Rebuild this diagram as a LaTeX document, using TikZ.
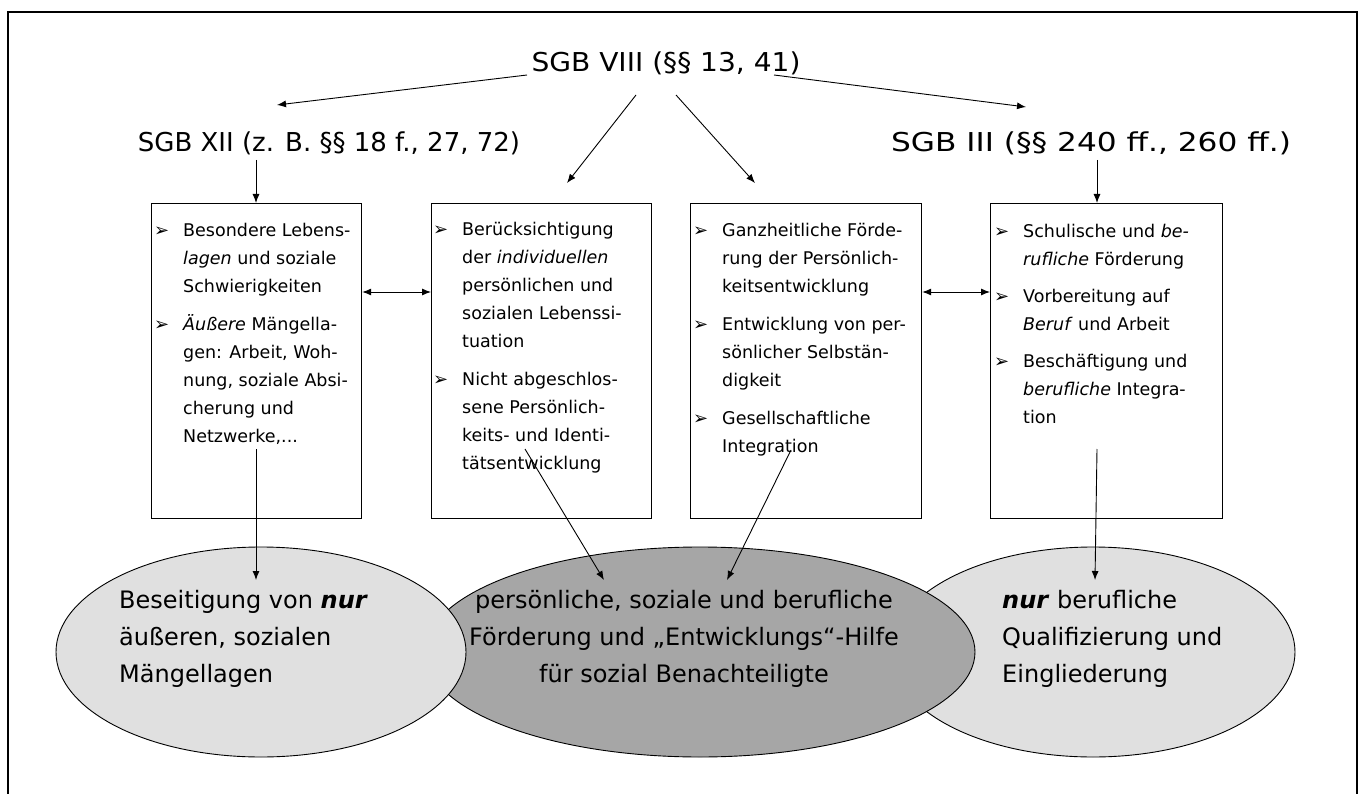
\documentclass[tikz,border=0pt]{standalone}
\usepackage{fontspec}
\setmainfont{DejaVu Sans}
\usetikzlibrary{shapes.geometric,arrows.meta}
\definecolor{lightell}{RGB}{224,224,224}
\definecolor{darkell}{RGB}{166,166,166}
\newcommand{\bul}{\makebox[29pt][l]{\fontsize{18}{18}\selectfont ➢}}
\newcommand{\ind}{\hspace*{29pt}}
\tikzset{
  arr/.style={-{Latex[length=9pt,width=7pt]}, line width=0.9pt},
  darr/.style={{Latex[length=9pt,width=7pt]}-{Latex[length=9pt,width=7pt]}, line width=0.9pt},
  boxnode/.style={draw, line width=1.2pt, anchor=north west, inner sep=0pt},
  boxtext/.style={anchor=base west, inner sep=0pt, align=left, font=\fontsize{17.5}{28}\selectfont},
  toplabel/.style={anchor=base, inner sep=0pt, font=\fontsize{26}{30}\selectfont},
  ell/.style={ellipse, draw, line width=0.9pt, inner sep=0pt, minimum height=210pt},
  elltext/.style={inner sep=0pt, font=\fontsize{24}{37}\selectfont},
}
\begin{document}
\begin{tikzpicture}[x=1pt,y=-1pt]
\useasboundingbox (0,0) rectangle (1365,794);
\draw[line width=1.2pt] (8,800) -- (8,12) -- (1357,12) -- (1357,800);

% top labels
\node[toplabel] (viii) at (666,72) {\scalebox{1.08}[1]{SGB VIII (§§ 13, 41)}};
\node[toplabel] (xii) at (329,152) {SGB XII (z. B. §§ 18 f., 27, 72)};
\node[toplabel] (iii) at (1091,152) {\scalebox{1.2}[1]{SGB III (§§ 240 ff., 260 ff.)}};

% boxes
\node[boxnode, minimum width=210pt, minimum height=315pt] (b1) at (151,203) {};
\node[boxnode, minimum width=220pt, minimum height=315pt] (b2) at (431,203) {};
\node[boxnode, minimum width=231pt, minimum height=315pt] (b3) at (690,203) {};
\node[boxnode, minimum width=232pt, minimum height=315pt] (b4) at (990,203) {};

% (anchor base = baseline of the last line)
\node[boxtext] (t1) at (154,442) {\bul Besondere Lebens-\\
\ind\textit{lagen} und soziale\\
\ind Schwierigkeiten\\[10pt]
\bul\textit{Äußere} Mängella-\\
\ind gen: Arbeit, Woh-\\
\ind nung, soziale Absi-\\
\ind cherung und\\
\ind Netzwerke,...};

\node[boxtext] (t2) at (433,469) {\bul Berücksichtigung\\
\ind der \textit{individuellen}\\
\ind persönlichen und\\
\ind sozialen Lebenssi-\\
\ind tuation\\[10pt]
\bul Nicht abgeschlos-\\
\ind sene Persönlich-\\
\ind keits- und Identi-\\
\ind tätsentwicklung};

\node[boxtext] (t3) at (693,452) {\bul Ganzheitliche Förde-\\
\ind rung der Persönlich-\\
\ind keitsentwicklung\\[10pt]
\bul Entwicklung von per-\\
\ind sönlicher Selbstän-\\
\ind digkeit\\[10pt]
\bul Gesellschaftliche\\
\ind Integration};

\node[boxtext] (t4) at (994,423) {\bul Schulische und \textit{be-}\\
\ind\textit{rufliche} Förderung\\[9pt]
\bul Vorbereitung auf\\
\ind\textit{Beruf} und Arbeit\\[9pt]
\bul Beschäftigung und\\
\ind\textit{berufliche} Integra-\\
\ind tion};

% top connectors
\coordinate (s1) at (527,75);  \coordinate (e1) at (277,105);
\coordinate (s2) at (636,95);  \coordinate (e2) at (567,183);
\coordinate (s3) at (676,95);  \coordinate (e3) at (755,183);
\coordinate (s4) at (774,75);  \coordinate (e4) at (1026,107);
\coordinate (s5) at (256,160); \coordinate (s6) at (1097,160);
\draw[arr] (s1) -- (e1);
\draw[arr] (s2) -- (e2);
\draw[arr] (s3) -- (e3);
\draw[arr] (s4) -- (e4);
\draw[arr] (s5) -- (b1.north -| s5);
\draw[arr] (s6) -- (b4.north -| s6);

% double arrows between boxes
\draw[darr] (b1.east |- 0,292) -- (b2.west |- 0,292);
\draw[darr] (b3.east |- 0,292) -- (b4.west |- 0,292);

% ellipses
\node[ell, fill=lightell, minimum width=404pt] (er) at (1093,652) {};
\node[ell, fill=darkell, minimum width=550pt] (em) at (700,652) {};
\node[ell, fill=lightell, minimum width=410pt] (el) at (261,652) {};

\node[elltext, anchor=base west, align=left] (tl) at (119,682) {Beseitigung von \textbf{\textit{nur}}\\
äußeren, sozialen\\
Mängellagen};
\node[elltext, anchor=base, align=center] (tm) at (684,682) {persönliche, soziale und berufliche\\
Förderung und „Entwicklungs“-Hilfe\\
für sozial Benachteiligte};
\node[elltext, anchor=base west, align=left] (tr) at (1002,682) {\textbf{\textit{nur}} berufliche\\
Qualifizierung und\\
Eingliederung};

% lower connectors
\coordinate (u1) at (256,449); \coordinate (v1) at (256,580);
\coordinate (u2) at (525,449); \coordinate (v2) at (604,580);
\coordinate (u3) at (791,450); \coordinate (v3) at (727,580);
\coordinate (u4) at (1097,449); \coordinate (v4) at (1095,580);
\draw[arr] (u1) -- (v1);
\draw[arr] (u2) -- (v2);
\draw[arr] (u3) -- (v3);
\draw[arr] (u4) -- (v4);
\end{tikzpicture}
\end{document}
